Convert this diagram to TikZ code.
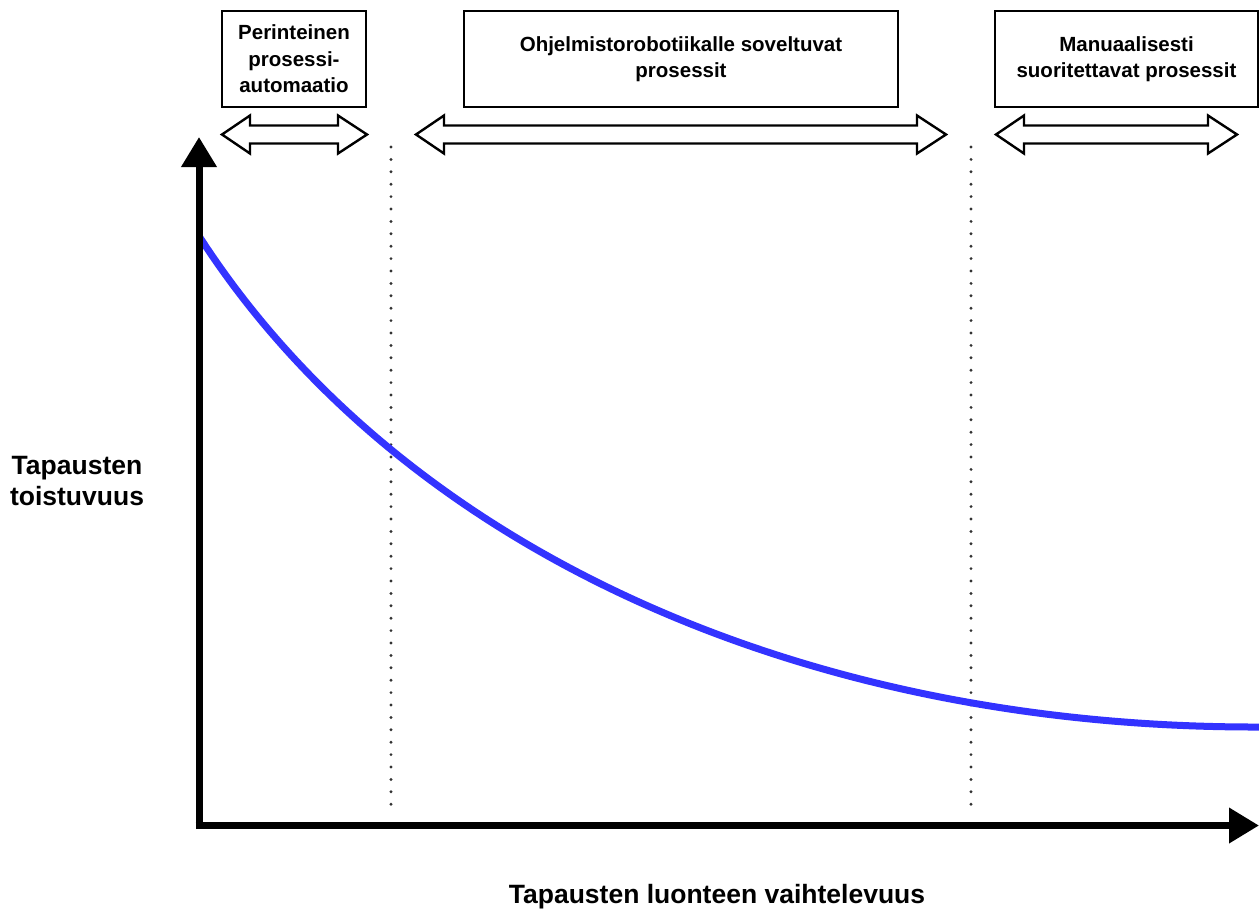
\documentclass[tikz,border=0pt]{standalone}
\usepackage{fontspec}
\setmainfont{Liberation Sans}
\usetikzlibrary{arrows.meta}
\definecolor{curveblue}{RGB}{51,51,255}
\definecolor{dotgray}{RGB}{50,50,50}
\newcommand{\dblarr}[3]{% left x, right x, name
  \draw[line width=2.4pt, fill=white] (#1,134.5) -- (#1+28,115.5) -- (#1+28,125.5) -- (#2-29,125.5) -- (#2-29,115.5) -- (#2,134.5) -- (#2-29,153.5) -- (#2-29,143.5) -- (#1+28,143.5) -- (#1+28,153.5) -- cycle;
  \coordinate (#3) at ({(#1+#2)/2},134.5);}
\begin{document}
\begin{tikzpicture}[x=1pt,y=-1pt,
  box/.style={draw, line width=1.5pt, fill=white, inner sep=0pt, align=center,
    font=\bfseries\fontsize{20.5}{26.5}\selectfont},
  lbl/.style={inner sep=0pt, align=center, font=\bfseries\fontsize{26.5}{31}\selectfont},
  axis/.style={line width=7pt, -{Triangle[length=30pt,width=34pt]}},
  sep/.style={dotgray, line width=3.2pt, line cap=round, dash pattern=on 0pt off 12.4pt}]
\useasboundingbox (0,0) rectangle (1259,914);
% boxes
\node[box, minimum width=144pt, minimum height=96pt] (b1) at (294,59) {Perinteinen\\prosessi-\\automaatio};
\node[box, minimum width=434pt, minimum height=96pt] (b2) at (681,59) {Ohjelmistorobotiikalle soveltuvat\\prosessit};
\node[box, minimum width=263pt, minimum height=96pt] (b3) at (1126.5,59) {Manuaalisesti\\suoritettavat prosessit};
% double arrows
\dblarr{222}{367}{a1}
\dblarr{416}{946}{a2}
\dblarr{996}{1237}{a3}
% separators
\coordinate (s1t) at (391,147); \coordinate (s1b) at (391,816);
\coordinate (s2t) at (971,147); \coordinate (s2b) at (971,816);
\draw[sep] (s1t) -- (s1b);
\draw[sep] (s2t) -- (s2b);
% curve
\coordinate (c0) at (199,236);
\coordinate (c3) at (1259,727);
\draw[curveblue, line width=7pt] (c0) .. controls (400,548) and (800,728) .. (c3);
% axes
\coordinate (o) at (199,829);
\coordinate (ox) at (195.5,825.5);
\coordinate (ytip) at (199,137);
\coordinate (xtip) at (1259,825.5);
\draw[axis] (o) -- (ytip);
\draw[axis] (ox) -- (xtip);
% labels
\node[lbl] (yl) at (77,481) {Tapausten\\toistuvuus};
\node[lbl] (xl) at (717,897) {Tapausten luonteen vaihtelevuus};
\end{tikzpicture}
\end{document}
